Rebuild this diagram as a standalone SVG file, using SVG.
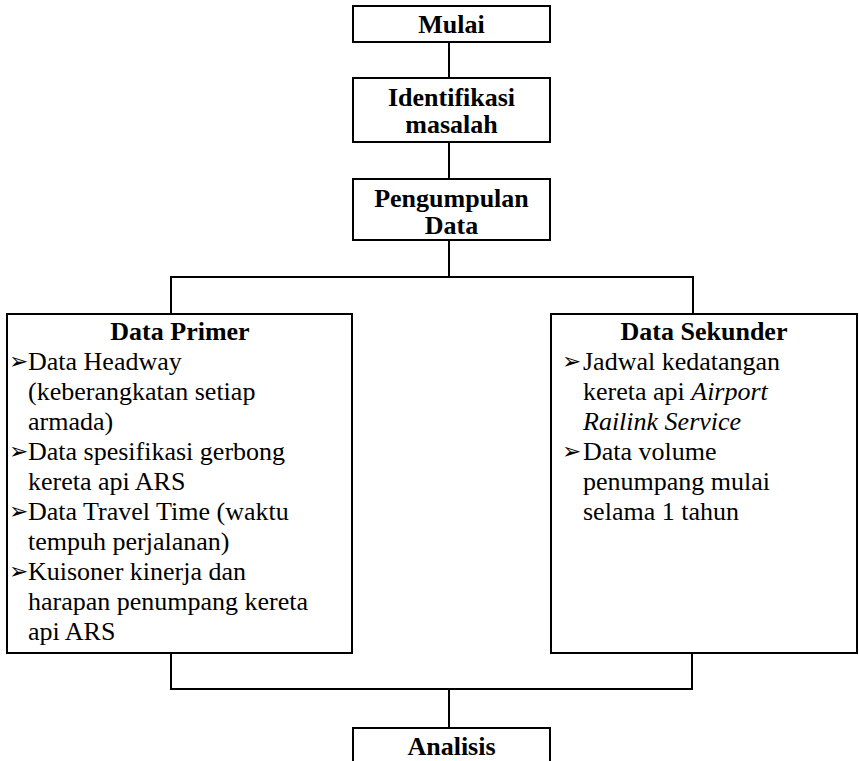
<svg xmlns="http://www.w3.org/2000/svg" width="859" height="761" viewBox="0 0 859 761">
<style>
.box{fill:#fff;stroke:#000;stroke-width:2}
.ln{fill:none;stroke:#000;stroke-width:2}
text{font-family:"Liberation Serif","Times New Roman",serif;font-size:26px;fill:#000}
.b{font-weight:bold}
.c{text-anchor:middle}
.i{font-style:italic}
.blt{font-family:"DejaVu Sans",sans-serif;font-size:23px}
</style>
<rect width="859" height="761" fill="#fff"/>
<g id="connectors">
<line class="ln" x1="449" y1="42" x2="449" y2="78"/>
<line class="ln" x1="449" y1="142" x2="449" y2="179"/>
<line class="ln" x1="449" y1="240" x2="449" y2="277"/>
<polyline class="ln" points="171,314 171,277 693,277 693,314"/>
<polyline class="ln" points="171,653 171,689 692,689 692,653"/>
<line class="ln" x1="449" y1="689" x2="449" y2="728"/>
</g>
<g id="mulai">
<rect class="box" x="353" y="6" width="197" height="36"/>
<text class="b c" x="451.5" y="33">Mulai</text>
</g>
<g id="identifikasi">
<rect class="box" x="353" y="78" width="197" height="64"/>
<text class="b c" x="451.5" y="106">Identifikasi</text>
<text class="b c" x="451.5" y="133">masalah</text>
</g>
<g id="pengumpulan">
<rect class="box" x="353" y="179" width="197" height="61"/>
<text class="b c" x="451.5" y="207">Pengumpulan</text>
<text class="b c" x="451.5" y="234">Data</text>
</g>
<g id="data-primer">
<rect class="box" x="7" y="314" width="345" height="339"/>
<text class="b c" x="180" y="340">Data Primer</text>
<text class="blt" x="9" y="369">➢</text>
<text x="28" y="370">Data Headway</text>
<text x="28" y="400">(keberangkatan setiap</text>
<text x="28" y="430">armada)</text>
<text class="blt" x="9" y="459">➢</text>
<text x="28" y="460">Data spesifikasi gerbong</text>
<text x="28" y="490">kereta api ARS</text>
<text class="blt" x="9" y="519">➢</text>
<text x="28" y="520">Data Travel Time (waktu</text>
<text x="28" y="550">tempuh perjalanan)</text>
<text class="blt" x="9" y="579">➢</text>
<text x="28" y="580">Kuisoner kinerja dan</text>
<text x="28" y="610">harapan penumpang kereta</text>
<text x="28" y="640">api ARS</text>
</g>
<g id="data-sekunder">
<rect class="box" x="551" y="314" width="306" height="339"/>
<text class="b c" x="704" y="340">Data Sekunder</text>
<text class="blt" x="562" y="369">➢</text>
<text x="583" y="370">Jadwal kedatangan</text>
<text x="583" y="400">kereta api <tspan class="i">Airport</tspan></text>
<text class="i" x="583" y="430">Railink Service</text>
<text class="blt" x="562" y="459">➢</text>
<text x="583" y="460">Data volume</text>
<text x="583" y="490">penumpang mulai</text>
<text x="583" y="520">selama 1 tahun</text>
</g>
<g id="analisis">
<rect class="box" x="353" y="728" width="197" height="60"/>
<text class="b c" x="451.5" y="755">Analisis</text>
</g>
</svg>
